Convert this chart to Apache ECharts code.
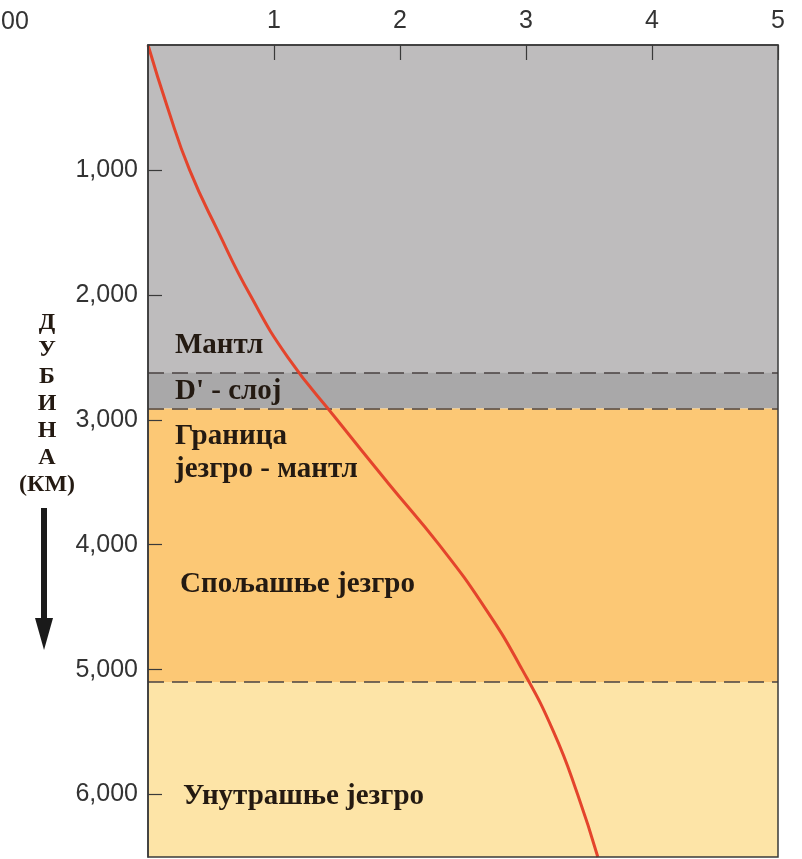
<!DOCTYPE html>
<html>
<head>
<meta charset="utf-8">
<script src="https://cdn.jsdelivr.net/npm/echarts@6/dist/echarts.min.js"></script>
<style>
  html, body { margin: 0; padding: 0; background: #ffffff; }
  #chart { width: 802px; height: 859px; }
</style>
</head>
<body>
<div id="chart"></div>
<script>
// Pressure (x, 0–5) against depth in km (y, growing downward)
const depthKm  = [0, 500, 1000, 1500, 2000, 2500, 3000, 3500, 4000, 4500, 5000, 5500, 6000, 6500];
const pressure = [0, 0.155, 0.33, 0.56, 0.81, 1.11, 1.50, 1.90, 2.31, 2.67, 2.97, 3.22, 3.41, 3.57];

// Layers: name, top depth, bottom depth, fill
const layerNames  = ['Мантл', "D' - слој", 'Спољашње језгро', 'Унутрашње језгро'];
const layerTop    = [0, 2620, 2910, 5100];
const layerBottom = [2620, 2910, 5100, 6500];
const layerColors = ['#bebcbd', '#a9a8a9', '#fcc875', '#fde4a7'];
const boundaries  = [2620, 2910, 5100];

const xTicks = [0, 1, 2, 3, 4, 5];
const yTicks = [0, 1000, 2000, 3000, 4000, 5000, 6000];

const chart = echarts.init(document.getElementById('chart'));

const serif = '"Liberation Serif", "Times New Roman", serif';
const sans = '"Liberation Sans", Arial, sans-serif';
const textColor = '#241a12';

const layerText = (txt, x, y) => ({
  type: 'text', x: x, y: y, z: 100,
  style: { text: txt, font: 'bold 29px ' + serif, fill: textColor, textVerticalAlign: 'middle' }
});

chart.setOption({
  animation: false,
  grid: { left: 148, top: 45, width: 630, height: 812, containLabel: false },
  xAxis: {
    type: 'value', position: 'top', min: xTicks[0], max: xTicks[xTicks.length - 1], interval: 1, z: 10,
    axisLine: { show: true, lineStyle: { color: '#3a3a3a', width: 1.5 } },
    axisTick: { show: true, inside: true, length: 15, lineStyle: { color: '#3a3a3a', width: 1.2 } },
    axisLabel: { showMinLabel: false, fontFamily: sans, fontSize: 25, color: '#333', margin: 11 },
    splitLine: { show: false }
  },
  yAxis: {
    type: 'value', inverse: true, min: 0, max: 6500, interval: 1000, z: 10,
    axisLine: { show: true, lineStyle: { color: '#3a3a3a', width: 1.5 } },
    axisTick: { show: true, inside: true, length: 14, lineStyle: { color: '#3a3a3a', width: 1.2 } },
    axisLabel: {
      showMinLabel: false, showMaxLabel: false, fontFamily: sans, fontSize: 25, color: '#333', margin: 10,
      formatter: v => (yTicks.indexOf(v) > 0 ? v.toLocaleString('en-US') : '')
    },
    splitLine: { show: false }
  },
  series: [
    {
      type: 'line',
      data: depthKm.map((d, i) => [pressure[i], d]),
      smooth: 0.5,
      symbol: 'none',
      z: 5,
      lineStyle: { color: '#e4442c', width: 3 },
      markArea: {
        silent: true,
        data: layerTop.map((t, i) => [
          { yAxis: t, itemStyle: { color: layerColors[i] } },
          { yAxis: layerBottom[i] }
        ])
      },
      markLine: {
        silent: true, symbol: 'none', label: { show: false },
        lineStyle: { color: '#4a4242', width: 1.5, type: [16, 8] },
        data: boundaries.map(b => ({ yAxis: b }))
      }
    }
  ],
  graphic: [
    { type: 'rect', z: 100, shape: { x: 148, y: 45, width: 630, height: 812 },
      style: { fill: 'none', stroke: '#3a3a3a', lineWidth: 1.5 } },
    layerText(layerNames[0], 175, 346),
    layerText(layerNames[1], 175, 392),
    layerText('Граница', 175, 437),
    layerText('језгро - мантл', 175, 470),
    layerText(layerNames[2], 180, 585),
    layerText(layerNames[3], 183, 797),
    { type: 'text', x: 1, y: 22, style: { text: '00', font: '25px ' + sans, fill: '#333', textVerticalAlign: 'middle' } },
    { type: 'text', x: 47, y: 309, z: 100,
      style: { text: 'Д\nУ\nБ\nИ\nН\nА\n(КМ)', font: 'bold 24px ' + serif, fill: textColor,
               textAlign: 'center', lineHeight: 27 } },
    { type: 'rect', shape: { x: 41, y: 508, width: 6, height: 118 }, style: { fill: '#1a1a1a' } },
    { type: 'polygon', shape: { points: [[35, 618], [53, 618], [44, 650]] }, style: { fill: '#1a1a1a' } }
  ]
});
</script>
</body>
</html>
